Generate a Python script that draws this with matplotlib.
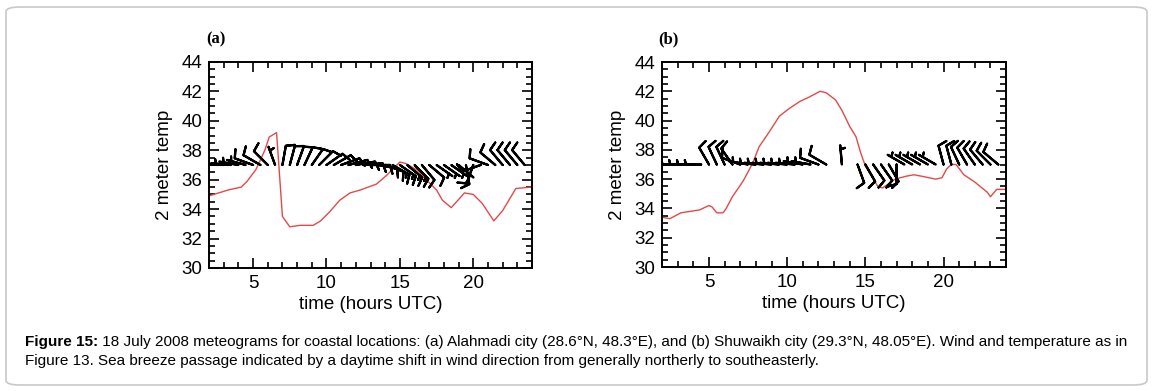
import matplotlib
matplotlib.use("Agg")
import matplotlib.pyplot as plt
import numpy as np
from matplotlib.patches import FancyBboxPatch
from matplotlib.ticker import MultipleLocator

# 2 m temperature, panel (a) Alahmadi
temp_a_hours = [2.0, 3.3, 4.2, 4.6, 5.2, 5.8, 6.1, 6.6, 7.0, 7.5, 8.2, 9.1, 9.6, 10.2,
                10.9, 11.6, 12.3, 13.4, 14.1, 15.0, 15.4, 16.1, 16.8, 17.5, 17.9, 18.5,
                19.4, 20.0, 20.6, 21.4, 22.0, 22.9, 24.0]
temp_a = [34.9, 35.3, 35.5, 35.9, 36.7, 38.0, 38.9, 39.2, 33.5, 32.8, 32.9, 32.9, 33.2, 33.8,
          34.6, 35.1, 35.3, 35.7, 36.3, 37.2, 37.1, 36.7, 36.0, 35.3, 34.6, 34.1,
          35.1, 35.0, 34.4, 33.2, 33.9, 35.4, 35.5]

# 2 m temperature, panel (b) Shuwaikh
temp_b_hours = [2.0, 2.5, 3.2, 3.8, 4.4, 5.0, 5.2, 5.5, 5.9, 6.1, 6.5, 7.2, 7.8, 8.2, 8.9,
                9.5, 10.1, 10.8, 11.4, 12.1, 12.5, 13.1, 13.5, 14.0, 14.4, 14.7, 15.0,
                15.4, 15.8, 16.1, 16.5, 16.9, 17.6, 18.1, 18.6, 19.5, 19.9, 20.2, 20.5,
                20.8, 21.3, 22.0, 22.8, 23.0, 23.4, 24.0]
temp_b = [33.4, 33.3, 33.7, 33.8, 33.9, 34.2, 34.1, 33.7, 33.7, 34.0, 34.8, 35.9, 37.1, 38.2, 39.3,
          40.3, 40.8, 41.3, 41.6, 42.0, 41.9, 41.4, 40.7, 39.6, 38.9, 37.8, 36.9,
          36.2, 35.5, 35.4, 35.7, 36.0, 36.2, 36.3, 36.2, 36.0, 36.1, 36.7, 37.0,
          37.0, 36.3, 35.8, 35.1, 34.8, 35.3, 35.3]

# wind barbs: direction the wind blows from (deg) and speed (kt)
wind_hours = [2.0, 2.5, 3.0, 3.5, 4.0, 4.5, 5.0, 5.5, 6.0, 6.5, 7.0, 7.5, 8.0, 8.5, 9.0,
              9.5, 10.0, 10.5, 11.0, 11.5, 12.0, 12.5, 13.0, 13.5, 14.0, 14.5, 15.0,
              15.5, 16.0, 16.5, 17.0, 17.5, 18.0, 18.5, 19.0, 19.5, 20.0, 20.5, 21.0,
              21.5, 22.0, 22.5, 23.0, 23.5]
wdir_a = [275, 275, 275, 275, 280, 285, 290, 300, 315, 340, 10, 15, 20, 25, 35,
          45, 55, 60, 70, 75, 80, 85, 90, 100, 110, 120, 125,
          130, 135, 140, 130, 125, 125, 125, 130, 170, 200, 250, 290,
          310, 320, 320, 320, 320]
wspd_a = [5, 5, 5, 5, 5, 5, 10, 10, 10, 5, 10, 10, 10, 10, 10,
          10, 10, 10, 10, 10, 10, 10, 10, 10, 10, 15, 15,
          15, 15, 10, 10, 5, 5, 5, 5, 15, 10, 10, 10,
          10, 10, 10, 10, 10]
wdir_b = [270, 270, 270, 270, 270, 270, 330, 335, 335, 325, 290, 280, 275, 275, 275,
          275, 275, 275, 280, 280, 290, 300, np.nan, 355, np.nan, 160, 150,
          145, 145, 150, 180, 300, 300, 300, 300, 300, 345, 345, 335,
          330, 325, 320, 315, 310]
wspd_b = [5, 5, 5, 5, 5, 5, 10, 10, 10, 10, 10, 5, 5, 5, 5,
          5, 5, 5, 5, 5, 10, 10, 0, 5, 0, 10, 10,
          10, 10, 10, 10, 5, 5, 5, 5, 5, 10, 10, 10,
          10, 10, 10, 10, 10]
barb_level = 37.0

caption_bold = "Figure 15:"
caption_1 = (" 18 July 2008 meteograms for coastal locations: (a) Alahmadi city (28.6°N, 48.3°E), "
             "and (b) Shuwaikh city (29.3°N, 48.05°E). Wind and temperature as in")
caption_2 = ("Figure 13. Sea breeze passage indicated by a daytime shift in wind direction "
             "from generally northerly to southeasterly.")

plt.rcParams["font.family"] = ["Liberation Sans", "DejaVu Sans"]

fig = plt.figure(figsize=(11.53, 3.91), dpi=100)
fig.patches.append(FancyBboxPatch((6 / 1153, 6 / 391), 1141 / 1153, 378 / 391,
                                  boxstyle="round,pad=0,rounding_size=0.012",
                                  transform=fig.transFigure, fc="white",
                                  ec="#c8c8c8", lw=1.2, zorder=-1))

ax_a = fig.add_axes([0.1813, 0.3146, 0.2801, 0.5269])
ax_b = fig.add_axes([0.5742, 0.3171, 0.2984, 0.5243])


def draw_panel(ax, t_hours, temps, wdir, wspd, label):
    ax.plot(t_hours, temps, color="#e24a48", lw=1.0, zorder=2)
    d = np.deg2rad(np.array(wdir, dtype=float))
    s = np.array(wspd, dtype=float)
    u = -s * np.sin(d)
    v = -s * np.cos(d)
    ok = ~np.isnan(d)
    h = np.array(wind_hours)[ok]
    ax.barbs(h, np.full(h.shape, barb_level), u[ok], v[ok], length=5.3,
             linewidth=1.6, color="black", zorder=3,
             sizes=dict(height=0.45, spacing=0.15, emptybarb=0.0))
    ax.set_xlim(2, 24)
    ax.set_ylim(30, 44)
    ax.xaxis.set_major_locator(MultipleLocator(5))
    ax.xaxis.set_minor_locator(MultipleLocator(1))
    ax.yaxis.set_major_locator(MultipleLocator(2))
    ax.yaxis.set_minor_locator(MultipleLocator(0.5))
    ax.tick_params(which="both", direction="in", top=True, right=True,
                   labelsize=13.5, width=1.2, pad=5)
    ax.tick_params(which="major", length=7)
    ax.tick_params(which="minor", length=4)
    for sp in ax.spines.values():
        sp.set_linewidth(1.4)
    ax.set_xlabel("time (hours UTC)", fontsize=13.5, labelpad=3)
    ax.set_ylabel("2 meter temp", fontsize=13.5, labelpad=6)
    ax.text(-0.01, 1.11, label, transform=ax.transAxes, fontsize=12,
            family=["Liberation Serif", "DejaVu Serif"], fontweight="bold",
            ha="left", va="center")


draw_panel(ax_a, temp_a_hours, temp_a, wdir_a, wspd_a, "(a)")
draw_panel(ax_b, temp_b_hours, temp_b, wdir_b, wspd_b, "(b)")

cap_font = ["Liberation Sans", "DejaVu Sans"]
tb = fig.text(25 / 1153, 1 - 342 / 391, caption_bold, fontsize=11, fontweight="bold",
              family=cap_font, va="center", ha="left")
fig.canvas.draw()
bb = tb.get_window_extent()
fig.text(bb.x1 / 1153, 1 - 342 / 391, caption_1, fontsize=11, family=cap_font,
         va="center", ha="left")
fig.text(25 / 1153, 1 - 361 / 391, caption_2, fontsize=11, family=cap_font,
         va="center", ha="left")

fig.savefig("out.png", dpi=100)
